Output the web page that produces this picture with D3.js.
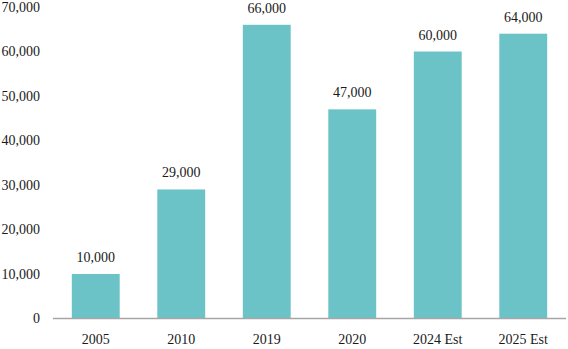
<!DOCTYPE html>
<html>
<head>
<meta charset="utf-8">
<script src="https://cdn.jsdelivr.net/npm/d3@7"></script>
<style>
  body { margin: 0; background: #fff; }
  text { font-family: "Liberation Serif", "Times New Roman", serif; fill: #1a1a1a; }
</style>
</head>
<body>
<div id="chart"></div>
<script>
// Chart data
const years = ["2005", "2010", "2019", "2020", "2024 Est", "2025 Est"];
const values = [10000, 29000, 66000, 47000, 60000, 64000];
const yTicks = [0, 10000, 20000, 30000, 40000, 50000, 60000, 70000];

const width = 568;
const height = 349;
const margin = { top: 7, right: 2, bottom: 30, left: 53 };

const svg = d3.select('#chart').append('svg')
    .attr('width', width)
    .attr('height', height);

const x = d3.scaleBand()
    .domain(years)
    .range([margin.left, width - margin.right])
    .paddingInner(0.44)
    .paddingOuter(0.22);

const y = d3.scaleLinear()
    .domain([0, 70000])
    .range([height - margin.bottom - 0.5, margin.top]);

const fmt = d3.format(',');

// y tick labels (no axis line)
svg.append('g')
    .selectAll('text')
    .data(yTicks)
    .enter().append('text')
    .attr('x', 40)
    .attr('y', d => y(d))
    .attr('dy', '0.35em')
    .attr('text-anchor', 'end')
    .style('font-size', '14px')
    .text(d => fmt(d));

// bars
svg.append('g')
    .selectAll('rect')
    .data(values)
    .enter().append('rect')
    .attr('x', (d, i) => x(years[i]))
    .attr('y', d => y(d))
    .attr('width', x.bandwidth())
    .attr('height', d => y(0) - y(d))
    .attr('fill', '#6bc3c8');

// value labels
svg.append('g')
    .selectAll('text')
    .data(values)
    .enter().append('text')
    .attr('x', (d, i) => x(years[i]) + x.bandwidth() / 2)
    .attr('y', d => y(d) - 12)
    .attr('text-anchor', 'middle')
    .style('font-size', '14px')
    .text(d => fmt(d));

// baseline
svg.append('line')
    .attr('x1', margin.left)
    .attr('x2', width - margin.right)
    .attr('y1', y(0))
    .attr('y2', y(0))
    .attr('stroke', '#a6a6a6')
    .attr('stroke-width', 1.5);

// category labels
svg.append('g')
    .selectAll('text')
    .data(years)
    .enter().append('text')
    .attr('x', d => x(d) + x.bandwidth() / 2)
    .attr('y', y(0) + 25)
    .attr('text-anchor', 'middle')
    .style('font-size', '14px')
    .text(d => d);
</script>
</body>
</html>
